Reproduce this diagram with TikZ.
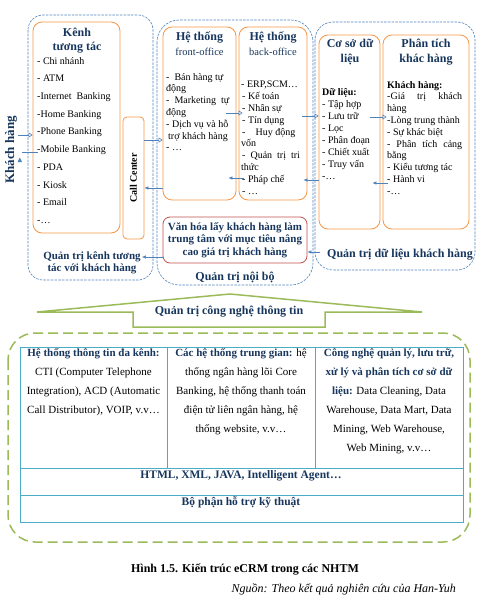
\documentclass[tikz,border=0pt]{standalone}
\usepackage{fontspec}
\setmainfont{Liberation Serif}
\usepackage{tikz}
\usetikzlibrary{calc,positioning,arrows.meta}

\definecolor{navy}{HTML}{17365D}
\definecolor{orng}{HTML}{F79646}
\definecolor{grpblue}{HTML}{4F81BD}
\definecolor{arrblue}{HTML}{4F81BD}
\definecolor{redbox}{HTML}{C0504D}
\definecolor{itgreen}{HTML}{9BBB59}
\definecolor{tblue}{HTML}{4BACC6}

\newcommand{\bnavy}[1]{{\color{navy}\bfseries #1}}

\begin{document}
\begin{tikzpicture}[x=1pt, y=-1pt,
	orbox/.style={draw=orng, line width=0.8pt, rounded corners=9pt},
	grp/.style={draw=grpblue, line width=0.6pt, dash pattern=on 2.5pt off 1.2pt},
	ttl/.style={text=navy, font=\bfseries\fontsize{12}{14.5}\selectfont, align=center, inner sep=1pt},
	lst/.style={font=\fontsize{10}{11.8}\selectfont, align=left, inner sep=0pt, anchor=north west},
	cell/.style={font=\fontsize{11}{19}\selectfont, align=center, inner sep=0pt, anchor=north},
	opnarr/.style={draw=arrblue, line width=0.6pt, -{Triangle[open, length=4pt, width=5pt]}},
	bkarr/.style={draw=arrblue, line width=0.6pt, -{Latex[length=4pt, width=3.5pt]}}]
	\useasboundingbox (0, 0) rectangle (478, 600);

	% groups
	\draw[grp, rounded corners=15pt] (28, 15) rectangle (153, 280);
	\draw[grp, rounded corners=22pt] (157, 20) rectangle (313, 285);
	\draw[grp, rounded corners=18pt] (315, 22) rectangle (475, 270);

	% channels
	\node[orbox, minimum width=87pt, minimum height=211pt] at (76.5, 127.5) (kenh) {};
	\node[ttl] at (77, 40.5) (kenhttl) {Kênh\\tương tác};
	\node[lst, font=\fontsize{10}{17.7}\selectfont] at (37, 57) (kenhlst) {- Chi nhánh\\- ATM\\-Internet\ \ Banking\\-Home Banking\\-Phone Banking\\-Mobile Banking\\- PDA\\- Kiosk\\- Email\\-…};
	\node[orbox, rounded corners=4pt, minimum width=21pt, minimum height=122pt] at (133.5, 178) (callc) {};
	\node[rotate=90, font=\bfseries\fontsize{10}{12}\selectfont, inner sep=0pt] at (133.5, 178) (cctxt) {Call Center};
	\node[ttl, font=\bfseries\fontsize{11}{12.5}\selectfont] at (92, 263) (qtk) {Quản trị kênh tương\\tác với khách hàng};

	% customer
	\node[rotate=90, text=navy, font=\bfseries\fontsize{13}{15}\selectfont, inner sep=0pt] at (11, 150) (khach) {Khách hàng};
	\coordinate (kin) at (18, 135);
	\coordinate (kout) at (22, 152);
	\draw[opnarr] (kin) -- (kenh.west |- kin);
	\draw[draw=arrblue, line width=0.6pt] ([xshift=5pt]kenh.west |- kout) -- (kout);
	\fill[arrblue] (17.5, 162) -- (22, 162) -- (19.8, 157.5) -- cycle;

	% internal
	\node[orbox, minimum width=73pt, minimum height=173pt] at (199.5, 113.5) (front) {};
	\node[ttl] at (199.5, 37) (frontttl) {Hệ thống};
	\node[text=navy, font=\fontsize{10.5}{12}\selectfont, inner sep=0pt] at (199.5, 52) (frontsub) {front-office};
	\node[lst] at (166, 73) (frontlst) {-\ \ Bán hàng tự\\động\\-\ \ Marketing\ \ tự\\động\\- Dịch vụ và hỗ\\\hspace{2pt}trợ khách hàng\\- …};
	\node[orbox, minimum width=68pt, minimum height=173pt] at (273, 113.5) (back) {};
	\node[ttl] at (273, 37) (backttl) {Hệ thống};
	\node[text=navy, font=\fontsize{10.5}{12}\selectfont, inner sep=0pt] at (273, 52) (backsub) {back-office};
	\node[lst] at (241, 81) (backlst) {- ERP,SCM…\\\hspace{1pt}- Kế toán\\\hspace{1pt}- Nhân sự\\\hspace{1pt}- Tín dụng\\\hspace{1pt}-\quad Huy động\\vốn\\\hspace{1pt}-\ \ Quản\ \ trị\ \ tri\\thức\\\hspace{1pt}- Pháp chế\\\hspace{1pt}- …};
	\node[draw=redbox, line width=0.8pt, rounded corners=7pt, minimum width=144pt, minimum height=46pt] at (235, 240) (van) {};
	\node[ttl, font=\bfseries\fontsize{11}{12.5}\selectfont] at (235, 240) (vantxt) {Văn hóa lấy khách hàng làm\\trung tâm với mục tiêu nâng\\cao giá trị khách hàng};
	\node[ttl] at (235, 277) (qtn) {Quản trị nội bộ};

	% data
	\node[orbox, minimum width=61pt, minimum height=194pt] at (349.5, 132) (csdl) {};
	\node[ttl] at (350, 52) (csdlttl) {Cơ sở dữ\\liệu};
	\node[lst, font=\fontsize{10}{12}\selectfont] at (322, 88) (csdllst) {\textbf{Dữ liệu:}\\- Tập hợp\\- Lưu trữ\\- Lọc\\- Phân đoạn\\- Chiết xuất\\- Truy vấn\\-…};
	\node[orbox, minimum width=86pt, minimum height=194pt] at (426, 132) (pt) {};
	\node[ttl] at (426, 52) (ptttl) {Phân tích\\khác hàng};
	\node[lst] at (387, 81) (ptlst) {\textbf{Khách hàng:}\\\makebox[75pt][s]{-Giá trị khách}\\hàng\\-Lòng trung thành\\- Sự khác biệt\\\makebox[75pt][s]{- Phân tích cảng}\\bằng\\- Kiểu tương tác\\- Hành vi\\-…};
	\node[ttl] at (400, 255) (qtd) {Quản trị dữ liệu khách hàng};

	% arrows
	\draw[opnarr] (callc.east |- 0, 140) -- (front.west |- 0, 140);
	\draw[bkarr] (front.west |- 0, 188) -- (callc.east |- 0, 188);
	\draw[opnarr] ([xshift=-10pt]front.east |- 0, 113) -- ([xshift=4pt]back.west |- 0, 113);
	\draw[bkarr] ([xshift=5pt]back.west |- 0, 178) -- ([xshift=-8pt]front.east |- 0, 178);
	\draw[opnarr] ([xshift=-5pt]back.east |- 0, 116) -- (csdl.west |- 0, 116);
	\draw[bkarr] (csdl.west |- 0, 180) -- ([xshift=-4pt]back.east |- 0, 180);
	\draw[opnarr] ([xshift=-10pt]csdl.east |- 0, 117) -- ([xshift=4pt]pt.west |- 0, 117);
	\draw[bkarr] ([xshift=5pt]pt.west |- 0, 183) -- ([xshift=-8pt]csdl.east |- 0, 183);
	\draw[bkarr] (van.west |- 0, 257) -- (qtk.east |- 0, 257);
	\draw[bkarr] ([xshift=-6pt]qtd.west |- 0, 252) -- (van.east |- 0, 252);

	% IT roof
	\draw[itgreen, line width=1.5pt] (37, 312) -- (230, 294) -- (422, 312) -- (325, 312) -- (325, 327) -- (133, 327) -- (133, 312) -- cycle;
	\node[ttl] at (229, 312) (qtit) {Quản trị công nghệ thông tin};
	\draw[itgreen, line width=1.5pt, dash pattern=on 10pt off 5pt, rounded corners=27pt] (8, 333) rectangle (470, 542);

	% table
	\draw[tblue, line width=0.8pt] (20, 347) rectangle (463, 522);
	\draw[tblue, line width=0.8pt] (167, 347) -- (167, 468) (315, 347) -- (315, 468);
	\draw[tblue, line width=0.8pt] (20, 468) -- (463, 468) (20, 495) -- (463, 495);
	\node[cell] at (93.5, 348.5) (c1) {\bnavy{Hệ thống thông tin đa kênh:}\\CTI (Computer Telephone\\Integration), ACD (Automatic\\Call Distributor), VOIP, v.v…};
	\node[cell] at (241, 348.5) (c2) {\bnavy{Các hệ thống trung gian:} hệ\\thống ngân hàng lõi Core\\Banking, hệ thống thanh toán\\điện tử liên ngân hàng, hệ\\thống website, v.v…};
	\node[cell] at (389, 348.5) (c3) {\bnavy{Công nghệ quản lý, lưu trữ,}\\\bnavy{xử lý và phân tích cơ sở dữ}\\\bnavy{liệu:} Data Cleaning, Data\\Warehouse, Data Mart, Data\\Mining, Web Warehouse,\\Web Mining, v.v…};
	\node[ttl, font=\bfseries\fontsize{11.5}{13}\selectfont] at (241, 476) (r2) {HTML, XML, JAVA, Intelligent Agent…};
	\node[ttl, font=\bfseries\fontsize{11.5}{13}\selectfont] at (241, 502) (r3) {Bộ phận hỗ trợ kỹ thuật};

	% caption
	\node[font=\bfseries\fontsize{12}{14}\selectfont, inner sep=0pt] at (245, 569) (cap) {Hình 1.5. Kiến trúc eCRM trong các NHTM};
	\node[font=\itshape\fontsize{12}{14}\selectfont, inner sep=0pt, anchor=east] at (456, 589) (src) {Nguồn: Theo kết quả nghiên cứu của Han-Yuh};
\end{tikzpicture}
\end{document}
